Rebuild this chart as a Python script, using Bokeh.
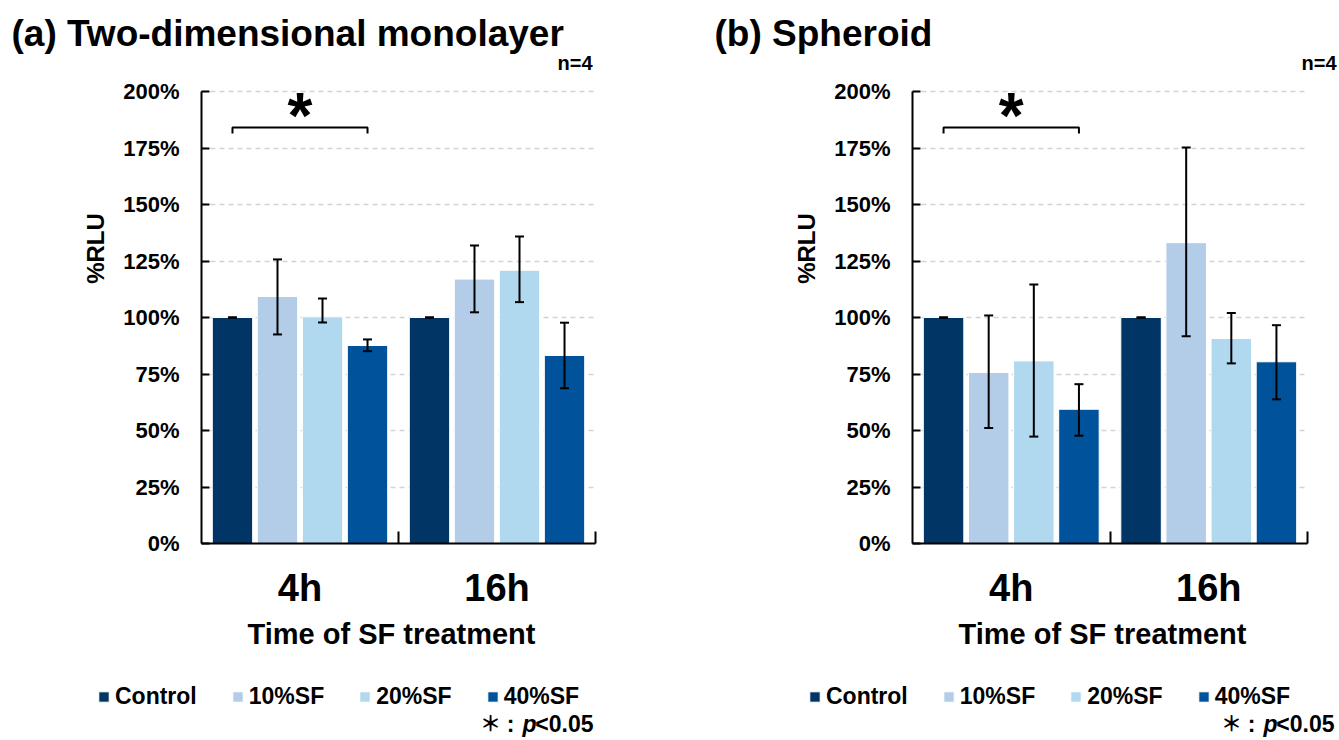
import math
from bokeh.plotting import figure
from bokeh.models import (ColumnDataSource, Range1d, FixedTicker, Whisker, TeeHead,
                          Legend, LegendItem, PrintfTickFormatter, Label, Grid)
from bokeh.layouts import row
from bokeh.embed import file_html
from bokeh.resources import INLINE
from bokeh.core.properties import value

# ---------------- data ----------------
times = ["4h", "16h"]
groups = ["Control", "10%SF", "20%SF", "40%SF"]
colors = ["#013565", "#b3cde9", "#b0d8ee", "#00529b"]
y_ticks = [0, 25, 50, 75, 100, 125, 150, 175, 200]

# (a) Two-dimensional monolayer, %RLU [4h, 16h]
mono_control = [100.0, 100.0]
mono_sf10 = [109.3, 117.0]
mono_sf20 = [100.3, 120.9]
mono_sf40 = [87.6, 83.2]
mono_control_lo = [100.0, 100.0]
mono_control_hi = [100.0, 100.0]
mono_sf10_lo = [92.5, 102.3]
mono_sf10_hi = [125.7, 131.9]
mono_sf20_lo = [97.8, 106.8]
mono_sf20_hi = [108.4, 135.8]
mono_sf40_lo = [85.1, 68.7]
mono_sf40_hi = [90.3, 97.7]

# (b) Spheroid, %RLU [4h, 16h]
sph_control = [100.0, 100.0]
sph_sf10 = [75.7, 133.1]
sph_sf20 = [80.8, 90.7]
sph_sf40 = [59.4, 80.4]
sph_control_lo = [100.0, 100.0]
sph_control_hi = [100.0, 100.0]
sph_sf10_lo = [51.1, 91.7]
sph_sf10_hi = [100.9, 175.2]
sph_sf20_lo = [47.3, 79.7]
sph_sf20_hi = [114.6, 102.0]
sph_sf40_lo = [47.7, 63.8]
sph_sf40_hi = [70.5, 96.6]

# ---------------- layout (page pixels) ----------------
FONT = "Liberation Sans"
BAR_STEP = 0.2285
BAR_W = 0.205
H = 740
Y0_PX, Y200_PX = 543, 91


def make_panel(title, means, lows, highs, fig_left, fig_w, ax_left, ax_right,
               title_dx, n_dx, note_dx):
    pxx = (ax_right - ax_left) / len(times)
    pxy = (Y0_PX - Y200_PX) / 200.0
    x_rng = Range1d(-(ax_left - fig_left) / pxx, (fig_left + fig_w - ax_left) / pxx)
    y_rng = Range1d(-(H - Y0_PX) / pxy, 200 + Y200_PX / pxy)
    p = figure(width=fig_w, height=H, x_range=x_rng, y_range=y_rng,
               output_backend="svg", toolbar_location=None, title=None,
               min_border_left=0, min_border_right=0, min_border_top=0,
               min_border_bottom=0)
    p.outline_line_color = None
    p.background_fill_color = "white"
    p.border_fill_color = "white"
    p.xgrid.visible = False

    # dashed horizontal grid limited to the data area
    if "cross_bounds" in Grid.properties():
        p.ygrid.ticker = FixedTicker(ticks=y_ticks[1:])
        p.ygrid.cross_bounds = (0, len(times))
        p.ygrid.grid_line_color = "#d3d3d3"
        p.ygrid.grid_line_dash = "5 4"
        p.ygrid.grid_line_width = 1.5
    else:
        p.ygrid.visible = False
        p.segment(x0=[0] * 8, x1=[len(times)] * 8, y0=y_ticks[1:], y1=y_ticks[1:],
                  line_color="#d3d3d3", line_dash="5 4", line_width=1.5)

    def sx(abs_x):
        return abs_x - fig_left

    def sy(abs_y):
        return H - abs_y

    # y axis
    p.yaxis.fixed_location = 0
    p.yaxis.bounds = (0, 200)
    p.yaxis.ticker = FixedTicker(ticks=y_ticks)
    p.yaxis.formatter = PrintfTickFormatter(format="%d%%")
    p.yaxis.axis_line_width = 2
    p.yaxis.major_tick_in = 8
    p.yaxis.major_tick_out = 0
    p.yaxis.major_tick_line_width = 2
    p.yaxis.minor_tick_line_color = None
    p.yaxis.major_label_standoff = 22
    p.yaxis.major_label_text_font = FONT
    p.yaxis.major_label_text_font_style = "bold"
    p.yaxis.major_label_text_font_size = "22px"
    p.yaxis.major_label_text_color = "black"

    # x axis
    centers = [i + 0.5 for i in range(len(times))]
    p.xaxis.fixed_location = 0
    p.xaxis.bounds = (0, len(times))
    p.xaxis.ticker = FixedTicker(ticks=centers, minor_ticks=list(range(1, len(times) + 1)))
    p.xaxis.major_label_overrides = {c: t for c, t in zip(centers, times)}
    p.xaxis.axis_line_width = 2
    p.xaxis.major_tick_line_color = None
    p.xaxis.minor_tick_in = 12
    p.xaxis.minor_tick_out = 0
    p.xaxis.minor_tick_line_width = 2
    p.xaxis.minor_tick_line_color = "black"
    p.xaxis.major_label_standoff = 17
    p.xaxis.major_label_text_font = FONT
    p.xaxis.major_label_text_font_style = "bold"
    p.xaxis.major_label_text_font_size = "38px"
    p.xaxis.major_label_text_color = "black"

    items = []
    bar_x = []
    for gi, g in enumerate(groups):
        off = (gi - (len(groups) - 1) / 2) * BAR_STEP
        xs = [c + off for c in centers]
        bar_x.append(xs)
        src = ColumnDataSource(dict(x=xs, top=means[gi], lo=lows[gi], hi=highs[gi]))
        r = p.vbar(x="x", top="top", width=BAR_W, source=src, fill_color=colors[gi],
                   line_color="white", line_width=1)
        w = Whisker(source=src, base="x", lower="lo", upper="hi", line_width=2,
                    line_color="black", level="annotation",
                    upper_head=TeeHead(size=9, line_width=2, line_color="black"),
                    lower_head=TeeHead(size=9, line_width=2, line_color="black"))
        p.add_layout(w)
        items.append(LegendItem(label=g, renderers=[r]))

    # significance bracket (Control vs 40%SF at 4h)
    x0, x1 = bar_x[0][0], bar_x[3][0]
    p.line(x=[x0, x0, x1, x1], y=[181.4, 184.1, 184.1, 181.4], line_color="black",
           line_width=2)
    p.text(x=[(x0 + x1) / 2], y=[189.2], text=["*"], text_font=value(FONT),
           text_font_size="64px", text_font_style="bold", text_align="center",
           text_baseline="middle", text_color="black")

    legend = Legend(items=items, orientation="horizontal",
                    location=(sx(ax_left - 104), sy(710)),
                    glyph_width=13, glyph_height=13, label_standoff=5, spacing=34,
                    padding=0, margin=0, border_line_color=None,
                    background_fill_alpha=0, label_text_font=FONT,
                    label_text_font_style="bold", label_text_font_size="23px",
                    label_text_color="black")
    p.add_layout(legend)

    def lab(text, ax, ay, size, align="left", baseline="middle", angle=0.0,
            style="bold", font=FONT):
        p.add_layout(Label(x=sx(ax), y=sy(ay), x_units="screen", y_units="screen",
                           text=text, text_font=font, text_font_size=size,
                           text_font_style=style, text_align=align,
                           text_baseline=baseline, angle=angle, text_color="black"))

    lab(title, ax_left + title_dx, 33, "37px")
    lab("n=4", ax_left + n_dx, 62, "20px", align="right")
    lab("%RLU", ax_left - 106, 248, "24px", align="center", angle=math.pi / 2)
    lab("Time of SF treatment", ax_left + 190, 633, "29px", align="center")
    R = ax_left + note_dx
    lab("\uff0a", R - 103, 721, "21px", align="center", font="Noto Sans CJK JP")
    lab(":", R - 83, 723, "23px", align="center")
    lab("p", R - 57, 723, "23px", align="right", style="bold italic")
    lab("<0.05", R, 723, "23px", align="right")
    return p


p1 = make_panel("(a) Two-dimensional monolayer",
                [mono_control, mono_sf10, mono_sf20, mono_sf40],
                [mono_control_lo, mono_sf10_lo, mono_sf20_lo, mono_sf40_lo],
                [mono_control_hi, mono_sf10_hi, mono_sf20_hi, mono_sf40_hi],
                0, 669, 201, 595, -190, 391, 392)
p2 = make_panel("(b) Spheroid",
                [sph_control, sph_sf10, sph_sf20, sph_sf40],
                [sph_control_lo, sph_sf10_lo, sph_sf20_lo, sph_sf40_lo],
                [sph_control_hi, sph_sf10_hi, sph_sf20_hi, sph_sf40_hi],
                669, 670, 912, 1307, -198, 424, 422)

layout = row(p1, p2)
open("out.html", "w").write(file_html(layout, INLINE))
